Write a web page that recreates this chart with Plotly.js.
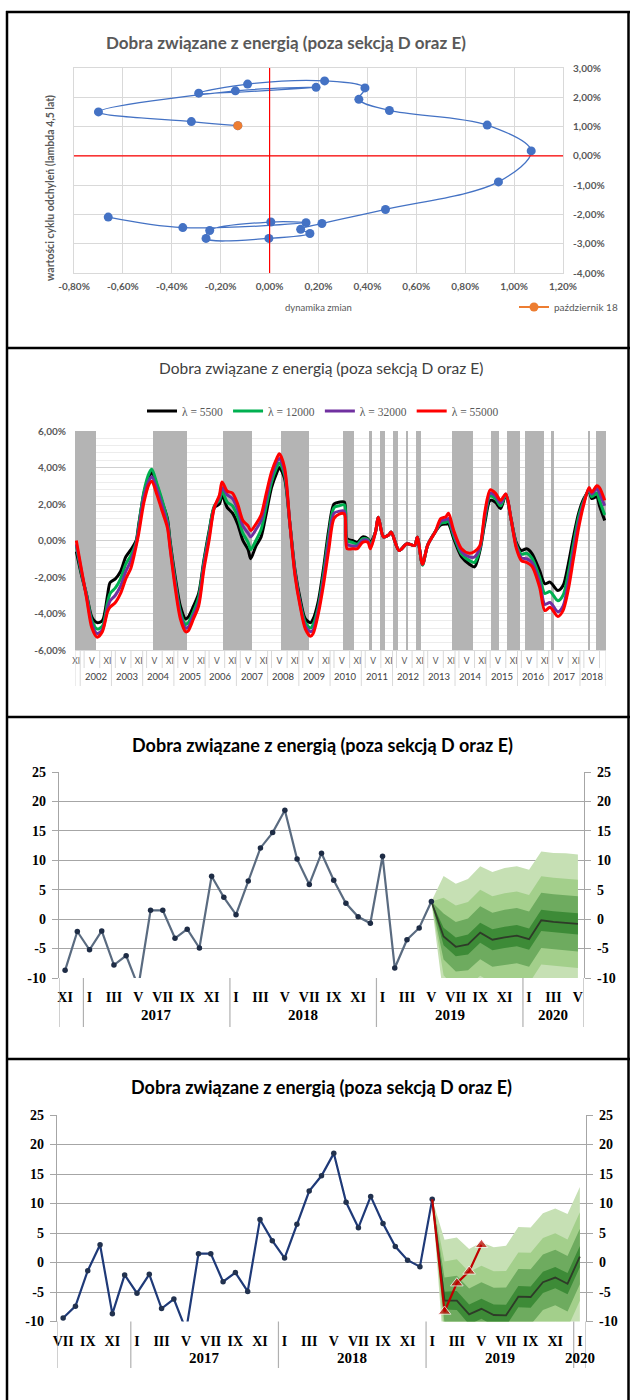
<!DOCTYPE html>
<html><head><meta charset="utf-8">
<script src="https://cdn.plot.ly/plotly-3.0.1.min.js"></script>
<style>html,body{margin:0;padding:0;background:#fff}#chart{width:630px;height:1400px}</style>
</head><body><div id="chart"></div>
<script>
// ================= DATA =================
// Panel 1: cycle clock (x = dynamics of change, y = cycle value), both in %
const cycleChange = [-0.66, -0.355, 0.149, 0.005, -0.245, -0.26, -0.003, 0.165, 0.127, 0.214, 0.474, 0.936, 1.07, 0.89, 0.49, 0.365, 0.39, 0.225, -0.09, -0.29, 0.19, -0.14, -0.70, -0.32, -0.13];
const cycleLevel  = [-2.09, -2.45, -2.28, -2.26, -2.55, -2.82, -2.82, -2.65, -2.51, -2.31, -1.83, -0.89, 0.17, 1.05, 1.55, 1.93, 2.32, 2.56, 2.45, 2.14, 2.34, 2.22, 1.50, 1.17, 1.03];
const lastPointName = 'październik 18';
const p1XTicks = [-0.8, -0.6, -0.4, -0.2, 0, 0.2, 0.4, 0.6, 0.8, 1.0, 1.2];
const p1YTicks = [-4, -3, -2, -1, 0, 1, 2, 3];

// Panel 2: HP-filter cycles, month index 0 = XI 2001
const hpMonth = [0,2,4,6,8,10,12,13,15,17,19,21,23,24,26,28,29,31,33,35,36,38,40,42,43,45,47,49,51,53,55,56,58,60,62,64,66,67,69,71,73,75,77,78,80,82,84,86,88,90,91,93,95,97,99,101,103,104,106,108,110,112,113,115,116,118,120,121,124,127,130,131,133,135,138,140,142,143,145,148,151,153,155,157,159,161,163,165,167,169,171,173,175,178,180,182,185,187,189,191,193,195,197,198,200,201,203];
const lam5500  = [-0.6,-1.9,-3.0,-4.2,-4.5,-4.4,-3.0,-2.3,-2.1,-1.7,-0.9,-0.5,0.0,0.9,2.6,3.5,3.75,3.0,2.1,1.2,0.0,-2.0,-3.6,-4.3,-4.2,-3.6,-2.9,-1.1,0.5,1.8,2.0,2.5,1.8,1.5,0.9,0.0,-0.5,-1.0,-0.3,0.2,1.5,2.9,3.7,4.0,3.4,1.0,-1.6,-3.2,-4.3,-4.5,-4.3,-3.3,-1.5,0.6,2.0,2.1,2.1,0.1,0.0,-0.1,0.2,0.1,-0.1,0.5,1.28,0.2,0.3,0.46,-0.55,-0.18,-0.27,0.18,-1.3,-0.25,0.5,0.85,0.9,0.9,0.1,-0.9,-1.3,-1.45,-0.6,1.0,2.2,2.1,1.75,2.5,1.2,-0.1,-0.55,-0.45,-0.7,-1.65,-2.37,-2.28,-2.74,-2.47,-1.3,0.2,1.5,2.3,2.7,2.3,2.4,1.9,1.1];
const lam12000 = [-0.3,-1.8,-3.0,-4.4,-4.85,-4.7,-3.4,-2.9,-2.6,-2.1,-1.3,-0.8,-0.1,0.8,2.7,3.7,3.9,3.1,2.2,1.1,-0.1,-2.2,-3.9,-4.6,-4.5,-3.9,-3.1,-1.2,0.4,1.9,2.2,2.7,2.1,1.9,1.3,0.4,-0.1,-0.5,0.0,0.6,1.9,3.2,4.0,4.25,3.6,1.0,-1.7,-3.4,-4.5,-4.8,-4.6,-3.6,-1.8,0.3,1.8,1.9,1.95,0.0,-0.1,-0.2,0.1,0.05,-0.2,0.5,1.28,0.2,0.3,0.46,-0.55,-0.18,-0.27,0.18,-1.35,-0.25,0.5,0.95,1.0,1.05,0.25,-0.75,-1.1,-1.2,-0.5,1.2,2.45,2.3,1.9,2.5,1.2,-0.2,-0.75,-0.7,-0.95,-2.0,-2.9,-2.8,-3.3,-3.0,-1.8,-0.2,1.3,2.2,2.8,2.4,2.6,2.2,1.4];
const lam32000 = [-0.2,-1.7,-3.1,-4.6,-5.1,-4.9,-3.7,-3.3,-3.0,-2.5,-1.7,-1.1,-0.2,0.6,2.4,3.3,3.5,2.8,1.9,0.9,-0.3,-2.4,-4.1,-4.8,-4.75,-4.1,-3.4,-1.4,0.2,1.8,2.4,2.9,2.5,2.3,1.7,0.8,0.4,0.2,0.6,1.1,2.3,3.5,4.3,4.5,3.8,1.0,-1.8,-3.5,-4.7,-5.0,-4.9,-3.8,-2.1,0.0,1.5,1.6,1.6,-0.2,-0.3,-0.3,0.0,0.0,-0.35,0.5,1.28,0.2,0.3,0.46,-0.55,-0.18,-0.27,0.18,-1.3,-0.25,0.5,1.05,1.15,1.2,0.4,-0.6,-0.9,-0.9,-0.4,1.4,2.6,2.45,2.05,2.55,1.2,-0.3,-0.95,-1.0,-1.2,-2.3,-3.5,-3.4,-3.9,-3.6,-2.3,-0.6,1.0,2.1,2.85,2.55,2.85,2.6,1.9];
const lam55000 = [0.0,-1.6,-3.2,-4.8,-5.3,-5.0,-3.9,-3.65,-3.4,-2.9,-2.1,-1.5,-0.3,0.4,2.1,3.1,3.25,2.5,1.6,0.7,-0.4,-2.6,-4.3,-5.0,-4.95,-4.3,-3.6,-1.6,0.0,1.8,2.5,3.2,2.7,2.6,2.0,1.1,0.8,0.55,0.9,1.4,2.6,3.75,4.5,4.75,4.0,1.0,-1.9,-3.6,-4.85,-5.25,-5.1,-4.0,-2.4,-0.5,1.2,1.45,1.45,-0.45,-0.45,-0.45,-0.1,-0.1,-0.45,0.5,1.28,0.2,0.3,0.46,-0.55,-0.18,-0.27,0.18,-1.3,-0.25,0.5,1.2,1.3,1.5,0.55,-0.45,-0.7,-0.6,-0.3,1.6,2.78,2.6,2.2,2.55,1.2,-0.4,-1.1,-1.2,-1.4,-2.56,-3.84,-3.66,-4.16,-3.84,-2.7,-1.0,0.7,2.0,2.9,2.65,3.0,2.9,2.2];
const seriesNames = ['λ = 5500', 'λ = 12000', 'λ = 32000', 'λ = 55000'];
// shaded periods (month index start / end, inclusive)
const shadeStart = [0, 30, 57, 79, 103, 113, 117, 122, 127, 131, 145, 160, 166, 173, 183, 197, 200];
const shadeEnd   = [7, 42, 67, 89, 106, 113, 118, 123, 127, 132, 152, 162, 170, 179, 183, 197, 203];
const hpFirstYear = 2001, hpFirstMonth = 10, hpLastMonth = 203;

// Panels 3 & 4: monthly data, index 0 = VII 2016 ... 34 = V 2019
const actualValues = [-9.4, -7.4, -1.4, 3.0, -8.7, -2.1, -5.2, -2.0, -7.8, -6.2, -11.5, 1.5, 1.5, -3.25, -1.7, -4.9, 7.3, 3.7, 0.75, 6.5, 12.1, 14.7, 18.5, 10.2, 5.9, 11.2, 6.6, 2.7, 0.4, -0.7, 10.7, -8.3, -3.5, -1.5, 3.0];
// fan chart (panel 3: forecast from V 2019; panel 4: forecast from I 2019)
const fan3Central = [3.0, -2.95, -4.7, -4.3, -2.3, -3.5, -3.1, -2.8, -3.4, -0.2, -0.45, -0.6, -0.8];
const fan4Central = [10.7, -6.45, -6.45, -8.8, -7.85, -8.9, -8.95, -5.8, -5.85, -3.35, -2.55, -3.6, 1.0];
const band90 = [0, 10.3, 10.7, 11.1, 11.3, 11.5, 11.8, 11.8, 11.8, 11.7, 11.7, 11.8, 11.8];
const band60 = [0, 6.6, 7.0, 7.2, 7.3, 7.4, 7.5, 7.5, 7.5, 7.5, 7.5, 7.5, 7.5];
const band30 = [0, 3.9, 4.2, 4.4, 4.5, 4.6, 4.7, 4.7, 4.7, 4.7, 4.7, 4.7, 4.7];
const band10 = [0, 1.5, 1.6, 1.7, 1.7, 1.8, 1.8, 1.8, 1.8, 1.8, 1.8, 1.8, 1.8];
const p34YTicks = [-10, -5, 0, 5, 10, 15, 20, 25];
const roman = ['I','II','III','IV','V','VI','VII','VIII','IX','X','XI','XII'];
const titleText = 'Dobra związane z energią (poza sekcją D oraz E)';

// ================= HELPERS =================
const W = 630, H = 1400;
const PX = v => v / W;
const PY = v => 1 - v / H;
const pct = v => (v < 0 ? '-' : '') + Math.abs(v).toFixed(2).replace('.', ',') + '%';
const plain = v => (v < 0 ? '-' : '') + Math.abs(v);

const traces = [];
const annotations = [];
const shapes = [];

// ================= PANEL 1 =================
// red reference cross at zero (axis coordinates)
shapes.push({type: 'line', xref: 'x', yref: 'y domain', x0: 0, x1: 0, y0: 0, y1: 1, line: {color: '#ff0000', width: 1.2}, layer: 'above'});
shapes.push({type: 'line', xref: 'x domain', yref: 'y', x0: 0, x1: 1, y0: 0, y1: 0, line: {color: '#ff0000', width: 1.2}, layer: 'above'});
traces.push({
  x: cycleChange, y: cycleLevel, xaxis: 'x', yaxis: 'y', mode: 'lines+markers', showlegend: false,
  line: {color: '#4472c4', width: 1.3, shape: 'spline', smoothing: 1},
  marker: {color: '#4472c4', size: 9}, hoverinfo: 'skip'
});
traces.push({
  x: [cycleChange[cycleChange.length - 1]], y: [cycleLevel[cycleLevel.length - 1]],
  xaxis: 'x', yaxis: 'y', mode: 'lines+markers', name: lastPointName, legend: 'legend',
  line: {color: '#ed7d31', width: 2}, marker: {color: '#ed7d31', size: 9}, hoverinfo: 'skip'
});
const f1 = {family: 'Lato, sans-serif', size: 10, color: '#595959', weight: 'bold'};

// ================= PANEL 2 =================
const y2min = -6, y2max = 6;
const shadeX = [];
shadeStart.forEach((s, i) => { for (let m = s; m <= shadeEnd[i]; m++) shadeX.push(m); });
traces.push({
  type: 'bar', x: shadeX, y: shadeX.map(() => y2max - y2min), base: y2min, width: 1,
  xaxis: 'x2', yaxis: 'y2', marker: {color: '#b4b4b4', line: {width: 0}}, showlegend: false, hoverinfo: 'skip'
});
const hpSeries = [lam5500, lam12000, lam32000, lam55000];
const hpColors = ['#000000', '#00b050', '#7030a0', '#ff0000'];
hpSeries.forEach((s, i) => traces.push({
  x: hpMonth, y: s, xaxis: 'x2', yaxis: 'y2', mode: 'lines', name: seriesNames[i], legend: 'legend2',
  line: {color: hpColors[i], width: 3, shape: 'spline', smoothing: 0.8}, hoverinfo: 'skip'
}));
const p2TickVals = [], p2TickText = [];
for (let m = 0; m <= hpLastMonth; m += 6) { p2TickVals.push(m); p2TickText.push(roman[(hpFirstMonth + m) % 12]); }
for (let m = 3; m <= hpLastMonth; m += 6) {
  shapes.push({type: 'line', xref: 'x2', yref: 'paper', x0: m, x1: m, y0: PY(650), y1: PY(668), line: {color: '#d9d9d9', width: 1}});
}
const firstJan = 12 - hpFirstMonth; // month index of first January
for (let y = hpFirstYear + 1; ; y++) {
  const s = firstJan + (y - hpFirstYear - 1) * 12;
  if (s > hpLastMonth) break;
  const e = Math.min(s + 11, hpLastMonth);
  annotations.push({text: String(y), xref: 'x2', yref: 'paper', x: (s + e) / 2, y: PY(676), showarrow: false,
    font: {family: 'Lato, sans-serif', size: 9.5, color: '#404040'}, yanchor: 'middle'});
  shapes.push({type: 'line', xref: 'x2', yref: 'paper', x0: s - 0.5, x1: s - 0.5, y0: PY(650), y1: PY(686), line: {color: '#d9d9d9', width: 1}});
}
[-0.5, hpLastMonth + 0.5].forEach(v => shapes.push({type: 'line', xref: 'x2', yref: 'paper', x0: v, x1: v, y0: PY(650), y1: PY(686), line: {color: '#d9d9d9', width: 1}}));

// ================= PANELS 3 & 4 =================
const fanColors = ['#c6e0b4', '#a3cf8b', '#6eab5f', '#3d8b37'];
const bands = [band90, band60, band30, band10];
function addFan(start, central, xa, ya) {
  const t = central.map((_, i) => start + i);
  bands.forEach((b, k) => {
    const up = central.map((c, i) => c + b[i]);
    const lo = central.map((c, i) => c - b[i]);
    traces.push({x: t.concat(t.slice().reverse()), y: up.concat(lo.slice().reverse()), xaxis: xa, yaxis: ya,
      mode: 'lines', fill: 'toself', fillcolor: fanColors[k], line: {width: 0}, showlegend: false, hoverinfo: 'skip'});
  });
  traces.push({x: t, y: central, xaxis: xa, yaxis: ya, mode: 'lines', line: {color: '#2e3b28', width: 1.8}, showlegend: false, hoverinfo: 'skip'});
}
const tAll = actualValues.map((_, i) => i);
// panel 3: XI 2016 (t=4) .. V 2020 (t=46)
addFan(34, fan3Central, 'x3', 'y3');
traces.push({x: tAll.slice(4), y: actualValues.slice(4), xaxis: 'x3', yaxis: 'y3', mode: 'lines+markers', showlegend: false,
  line: {color: '#5a6b80', width: 2.2}, marker: {color: '#1e2c45', size: 5.5}, hoverinfo: 'skip'});
traces.push({x: [4], y: [null], xaxis: 'x3', yaxis: 'y5', showlegend: false, hoverinfo: 'skip'});
// panel 4: VII 2016 (t=0) .. I 2020 (t=42)
addFan(30, fan4Central, 'x4', 'y4');
traces.push({x: tAll.slice(0, 31), y: actualValues.slice(0, 31), xaxis: 'x4', yaxis: 'y4', mode: 'lines+markers', showlegend: false,
  line: {color: '#1f3a78', width: 2.2}, marker: {color: '#22324f', size: 5.5}, hoverinfo: 'skip'});
traces.push({x: tAll.slice(30), y: actualValues.slice(30), xaxis: 'x4', yaxis: 'y4', mode: 'lines+markers', showlegend: false,
  line: {color: '#c00000', width: 2.2}, marker: {color: '#c00000', symbol: 'triangle-up', size: tAll.slice(30).map((_, i) => i === 0 ? 0 : 11)}, hoverinfo: 'skip'});
traces.push({x: [0], y: [null], xaxis: 'x4', yaxis: 'y7', showlegend: false, hoverinfo: 'skip'});

const f34 = {family: '"Liberation Serif", serif', size: 14, color: '#000000', weight: 'bold'};
function monthTicks(t0, t1) {
  const v = [], s = [];
  for (let t = t0; t <= t1; t += 2) { v.push(t); s.push(roman[(6 + t) % 12]); }
  return [v, s];
}
function yearLabels(xa, t0, t1, yLab, ySepEnd, yTop) {
  for (let y = 2016; y <= 2020; y++) {
    const s = Math.max((y - 2016) * 12 - 6, t0), e = Math.min((y - 2016) * 12 + 5, t1);
    if (e < s) continue;
    if (y > 2016) annotations.push({text: String(y), xref: xa, yref: 'paper', x: (s + e) / 2, y: PY(yLab), showarrow: false, font: Object.assign({}, f34, {size: 15}), yanchor: 'middle'});
    if ((y - 2016) * 12 - 6 > t0) shapes.push({type: 'line', xref: xa, yref: 'paper', x0: s - 0.5, x1: s - 0.5, y0: PY(yTop), y1: PY(ySepEnd), line: {color: '#b0b0b0', width: 1.2}});
  }
  [t0 - 0.5, t1 + 0.5].forEach(v => shapes.push({type: 'line', xref: xa, yref: 'paper', x0: v, x1: v, y0: PY(yTop), y1: PY(ySepEnd), line: {color: '#b0b0b0', width: 1.2}}));
}
const [m3v, m3t] = monthTicks(4, 46);
const [m4v, m4t] = monthTicks(0, 42);
yearLabels('x3', 4, 46, 1015, 1027, 978);
yearLabels('x4', 0, 42, 1358, 1368, 1321.5);

// ================= TITLES & TEXT =================
const mid = {xanchor: 'center', yanchor: 'middle', showarrow: false, xref: 'paper', yref: 'paper'};
annotations.push(Object.assign({text: '<b>' + titleText + '</b>', x: PX(286), y: PY(42),
  font: {family: 'Lato, sans-serif', size: 17, color: '#595959'}}, mid));
annotations.push(Object.assign({text: '<b>wartości cyklu odchyleń (lambda 4,5 lat)</b>', x: PX(50), y: PY(188), textangle: -90,
  font: {family: 'Lato, sans-serif', size: 10.5, color: '#595959'}}, mid));
annotations.push(Object.assign({text: 'dynamika zmian', x: PX(318), y: PY(308),
  font: {family: 'Lato, sans-serif', size: 9.5, color: '#595959'}}, mid));
annotations.push(Object.assign({text: titleText, x: PX(321), y: PY(368),
  font: {family: 'Lato, sans-serif', size: 15.5, color: '#404040'}}, mid));
annotations.push(Object.assign({text: '<b>' + titleText + '</b>', x: PX(322), y: PY(745),
  font: {family: 'Lato, sans-serif', size: 18, color: '#000000'}}, mid));
annotations.push(Object.assign({text: '<b>' + titleText + '</b>', x: PX(321), y: PY(1087),
  font: {family: 'Lato, sans-serif', size: 18, color: '#000000'}}, mid));

// panel borders
const bl = {color: '#000000', width: 2.5};
[12, 348, 717, 1059].forEach(yv => shapes.push({type: 'line', xref: 'paper', yref: 'paper', x0: PX(6), x1: PX(630), y0: PY(yv), y1: PY(yv), line: bl}));
shapes.push({type: 'line', xref: 'paper', yref: 'paper', x0: PX(7), x1: PX(7), y0: PY(11), y1: PY(1400), line: bl});
shapes.push({type: 'line', xref: 'paper', yref: 'paper', x0: PX(628.5), x1: PX(628.5), y0: PY(11), y1: PY(1400), line: bl});

const gridAx34 = {gridcolor: '#a6a6a6', gridwidth: 1, ticks: 'outside', ticklen: 6, tickcolor: '#a6a6a6',
  showline: true, linecolor: '#a6a6a6', linewidth: 1.2, zeroline: false, tickfont: f34, range: [-10, 25],
  tickmode: 'array', tickvals: p34YTicks, ticktext: p34YTicks.map(plain), fixedrange: true, ticklabelstandoff: 3};

const layout = {
  width: W, height: H, margin: {l: 0, r: 0, t: 0, b: 0}, paper_bgcolor: '#ffffff', plot_bgcolor: 'rgba(0,0,0,0)',
  bargap: 0, showlegend: true, font: {family: 'Lato, sans-serif'},
  xaxis: {domain: [PX(74), PX(563)], anchor: 'y', range: [-0.8, 1.2], tickmode: 'array', tickvals: p1XTicks, ticktext: p1XTicks.map(pct),
    showgrid: true, gridcolor: '#d9d9d9', zeroline: false,
    showline: true, mirror: true, linecolor: '#d9d9d9', tickfont: f1, ticklabelstandoff: 4},
  yaxis: {domain: [PY(273), PY(68)], anchor: 'x', side: 'right', range: [-4, 3], tickmode: 'array', tickvals: p1YTicks, ticktext: p1YTicks.map(pct),
    showgrid: true, gridcolor: '#d9d9d9', zeroline: false,
    showline: true, mirror: true, linecolor: '#d9d9d9', tickfont: f1, ticklabelstandoff: 7},
  xaxis2: {domain: [PX(75), PX(606)], anchor: 'y2', range: [-0.5, hpLastMonth + 0.5], tickmode: 'array', tickvals: p2TickVals, ticktext: p2TickText,
    showgrid: false, zeroline: false, ticks: '', showline: true, linecolor: '#d9d9d9',
    tickfont: {family: 'Lato, sans-serif', size: 8.5, color: '#595959'}, ticklabelstandoff: 3, tickangle: 0},
  yaxis2: {domain: [PY(650), PY(431)], anchor: 'x2', range: [y2min, y2max], tickmode: 'array', tickvals: [-6, -4, -2, 0, 2, 4, 6], ticktext: [-6, -4, -2, 0, 2, 4, 6].map(pct),
    showgrid: true, gridcolor: '#d0d0d0', zeroline: false, tickfont: f1, ticklabelstandoff: 8,
    minor: {tickmode: 'linear', tick0: -6, dtick: 0.4, showgrid: true, gridcolor: '#ececec', gridwidth: 1, ticks: ''}},
  xaxis3: {domain: [PX(59), PX(584)], anchor: 'y3', range: [3.5, 46.5], tickmode: 'array', tickvals: m3v, ticktext: m3t,
    showgrid: false, zeroline: false, ticks: '', showline: false, tickfont: f34, ticklabelstandoff: 9, tickangle: 0},
  yaxis3: Object.assign({domain: [PY(978), PY(772)], anchor: 'x3'}, gridAx34),
  yaxis5: Object.assign({}, gridAx34, {overlaying: 'y3', anchor: 'x3', side: 'right', showgrid: false}),
  xaxis4: {domain: [PX(57), PX(586)], anchor: 'y4', range: [-0.5, 42.5], tickmode: 'array', tickvals: m4v, ticktext: m4t,
    showgrid: false, zeroline: false, ticks: '', showline: false, tickfont: f34, ticklabelstandoff: 9, tickangle: 0},
  yaxis4: Object.assign({domain: [PY(1321.5), PY(1115)], anchor: 'x4'}, gridAx34),
  yaxis7: Object.assign({}, gridAx34, {overlaying: 'y4', anchor: 'x4', side: 'right', showgrid: false}),
  legend: {x: PX(514), y: PY(307), xanchor: 'left', yanchor: 'middle', bgcolor: 'rgba(0,0,0,0)',
    font: {family: 'Lato, sans-serif', size: 10, color: '#595959'}, itemwidth: 30},
  legend2: {x: PX(323), y: PY(411), xanchor: 'center', yanchor: 'middle', orientation: 'h', bgcolor: 'rgba(0,0,0,0)',
    font: {family: '"Liberation Serif", serif', size: 11.5, color: '#595959'}, itemwidth: 30, traceorder: 'normal'},
  annotations: annotations, shapes: shapes
};
Plotly.newPlot('chart', traces, layout, {displayModeBar: false, staticPlot: true});
</script></body></html>
